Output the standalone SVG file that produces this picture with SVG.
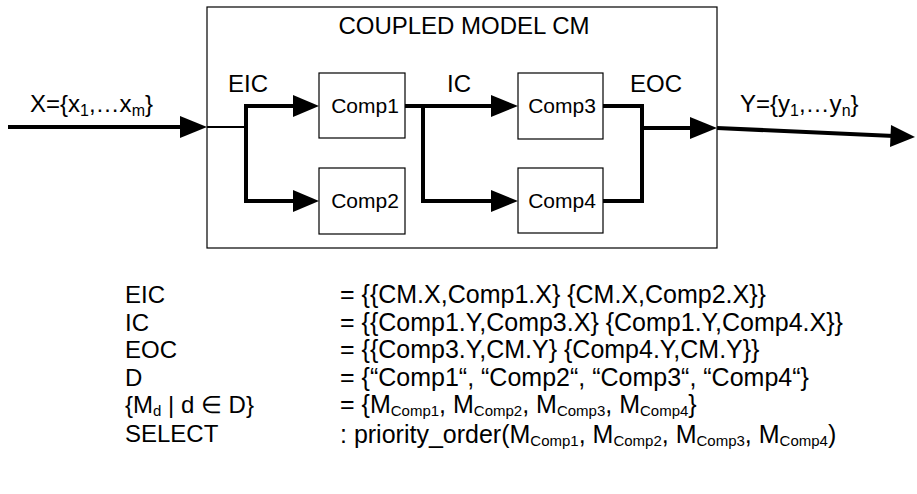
<svg xmlns="http://www.w3.org/2000/svg" width="917" height="494" viewBox="0 0 917 494">
<style>
text{font-family:"Liberation Sans",Arial,sans-serif;fill:#000}
.t{font-size:24px}
.c{font-size:21px}
.b{font-size:24px}
.r{font-size:25px}
.s{font-size:16px}
.q{font-size:15px}
.box{fill:#fff;stroke:#000;stroke-width:1.2}
.w{fill:none;stroke:#000;stroke-width:4}
.thin{fill:none;stroke:#000;stroke-width:2}
.ah{fill:#000}
</style>
<rect width="917" height="494" fill="#fff"/>
<g id="coupled-model">
<rect class="box" x="207" y="7" width="510" height="241"/>
<text class="t" x="464" y="34" text-anchor="middle">COUPLED MODEL CM</text>
</g>
<g id="comp1"><rect class="box" x="319" y="73" width="86" height="65"/><text class="c" x="365" y="113" text-anchor="middle">Comp1</text></g>
<g id="comp2"><rect class="box" x="319" y="168" width="86" height="66"/><text class="c" x="365" y="208" text-anchor="middle">Comp2</text></g>
<g id="comp3"><rect class="box" x="518" y="73" width="85" height="66"/><text class="c" x="562" y="113" text-anchor="middle">Comp3</text></g>
<g id="comp4"><rect class="box" x="518" y="168" width="85" height="65"/><text class="c" x="562" y="208" text-anchor="middle">Comp4</text></g>
<g id="connectors">
<path class="w" d="M8,127 H182"/>
<polygon class="ah" points="180,116 207,127 180,138"/>
<path class="thin" d="M207,127 H246"/>
<path class="w" d="M295,106 H246 V201 H295"/>
<polygon class="ah" points="293,95 319,106 293,117"/>
<polygon class="ah" points="293,190 319,201 293,212"/>
<path class="w" d="M405,106 H493 M423,106 V201 H493"/>
<polygon class="ah" points="491,95 518,106 491,117"/>
<polygon class="ah" points="491,190 518,201 491,212"/>
<path class="w" d="M603,106 H642 V201 H603 M642,128 H692"/>
<polygon class="ah" points="690,117 717,128 690,139"/>
<path class="w" d="M717,128 L894,136"/>
<polygon class="ah" points="891,125 915,137 890,147"/>
</g>
<g id="labels">
<text class="t" x="30" y="112">X={x<tspan class="s" dy="4">1</tspan><tspan dy="-4">,…x</tspan><tspan class="s" dy="4">m</tspan><tspan dy="-4">}</tspan></text>
<text class="t" x="740" y="112">Y={y<tspan class="s" dy="4">1</tspan><tspan dy="-4">,…y</tspan><tspan class="s" dy="4">n</tspan><tspan dy="-4">}</tspan></text>
<text class="t" x="228" y="92">EIC</text>
<text class="t" x="447" y="92">IC</text>
<text class="t" x="630" y="92">EOC</text>
</g>
<g id="definitions">
<text class="b" x="125" y="303">EIC</text>
<text class="b" x="125" y="331">IC</text>
<text class="b" x="125" y="358">EOC</text>
<text class="b" x="125" y="386">D</text>
<text class="b" x="125" y="413">{M<tspan class="q" dy="3">d</tspan><tspan dy="-3"> | d ∈ D}</tspan></text>
<text class="b" x="125" y="442">SELECT</text>
<text class="r" x="340" y="303">= {{CM.X,Comp1.X} {CM.X,Comp2.X}}</text>
<text class="r" x="340" y="331">= {{Comp1.Y,Comp3.X} {Comp1.Y,Comp4.X}}</text>
<text class="r" x="340" y="358">= {{Comp3.Y,CM.Y} {Comp4.Y,CM.Y}}</text>
<text class="r" x="340" y="386">= {“Comp1“, “Comp2“, “Comp3“, “Comp4“}</text>
<text class="r" x="340" y="413">= {M<tspan class="q" dy="3">Comp1</tspan><tspan dy="-3">, M</tspan><tspan class="q" dy="3">Comp2</tspan><tspan dy="-3">, M</tspan><tspan class="q" dy="3">Comp3</tspan><tspan dy="-3">, M</tspan><tspan class="q" dy="3">Comp4</tspan><tspan dy="-3">}</tspan></text>
<text class="r" x="340" y="443">: priority_order(M<tspan class="q" dy="3">Comp1</tspan><tspan dy="-3">, M</tspan><tspan class="q" dy="3">Comp2</tspan><tspan dy="-3">, M</tspan><tspan class="q" dy="3">Comp3</tspan><tspan dy="-3">, M</tspan><tspan class="q" dy="3">Comp4</tspan><tspan dy="-3">)</tspan></text>
</g>
</svg>
